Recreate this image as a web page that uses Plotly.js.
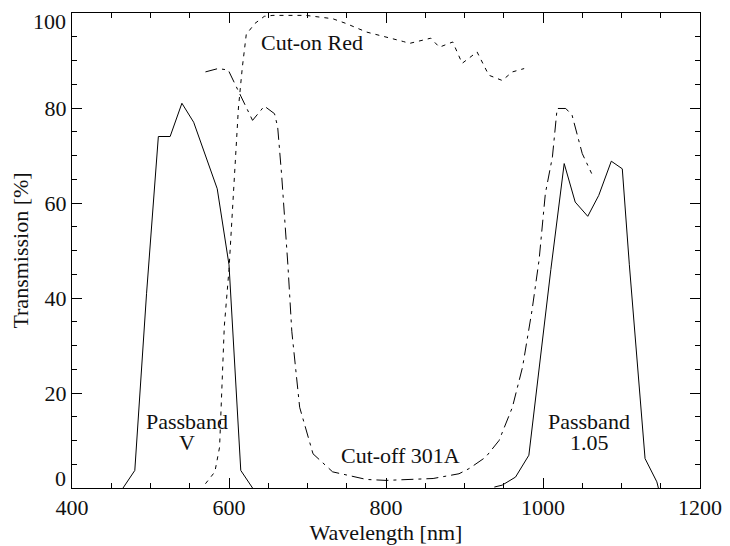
<!DOCTYPE html>
<html>
<head>
<meta charset="utf-8">
<script src="https://cdn.plot.ly/plotly-3.0.1.min.js"></script>
<style>html,body{margin:0;padding:0;background:#fff;}</style>
</head>
<body>
<div id="chart" style="width:730px;height:546px;"></div>
<script>
// Passband V (solid)
const passbandV_x = [465, 480, 495, 510, 525, 540, 555, 570, 585, 600, 615, 630];
const passbandV_y = [0, 3.7, 41, 74, 74, 81, 77, 70, 63, 47, 3.7, 0];

// Cut-off 301A (dash-dot)
const cutoff_x = [570, 586, 599, 630, 645, 658, 662, 667, 675, 680, 690, 707, 732, 775, 800, 860, 893, 906, 927, 944, 961, 974, 986, 995, 1003, 1012, 1018, 1029, 1037, 1046, 1050, 1062];
const cutoff_y = [87.6, 88.3, 88, 77.4, 80.4, 78.8, 76, 66, 47, 33, 17, 7.2, 3.4, 1.8, 1.6, 2, 3, 4.1, 6.5, 10, 17, 25.5, 37.4, 48, 62, 69.7, 79.9, 79.9, 78.5, 73.2, 70.4, 66.2];

// Cut-on Red (dashed)
const cuton_x = [570, 582, 588, 594, 600, 605, 608, 612, 617, 622, 633, 645, 656, 698, 732, 749, 775, 800, 822, 830, 846, 857, 868, 885, 897, 916, 931, 948, 961, 976];
const cuton_y = [0.9, 3.4, 8.6, 34, 46, 60, 71, 80, 88.6, 95.5, 97.8, 99.3, 99.5, 99.5, 98.8, 97.8, 96, 95, 94, 93.6, 94.3, 94.7, 92.8, 93.9, 89.4, 91.8, 86.9, 85.8, 87.6, 88.3];

// Passband 1.05 (solid)
const passband105_x = [938, 948, 965, 982, 1010, 1027, 1041, 1057, 1071, 1087, 1101, 1110, 1130, 1145, 1147];
const passband105_y = [0.2, 0.6, 2.3, 6.9, 46, 68.3, 60.2, 57.2, 61.6, 68.8, 67.2, 47, 6.2, 1.3, 0];

// Curve labels
const labelText = ["Cut-on Red", "Passband", "V", "Cut-off 301A", "Passband", "1.05"];
const labelX = [706, 547, 547, 818, 1059, 1059];
const labelY = [93.7, 14.1, 9.5, 6.8, 14.1, 9.5];

// Axis ticks
const xTickVals = [400, 600, 800, 1000, 1200];
const yInnerTickVals = [20, 40, 60, 80];
const yEdgeTickVals = [0, 100];   // drawn inside the axis ends, as in the reference

const FONT = "Liberation Serif, Times New Roman, serif";
const TXT = "#111";
const lineBase = {mode: "lines", showlegend: false, hoverinfo: "skip"};

const traces = [
  Object.assign({x: passbandV_x, y: passbandV_y, line: {color: "#000", width: 1}}, lineBase),
  Object.assign({x: cutoff_x, y: cutoff_y, line: {color: "#000", width: 1, dash: "12px,5px,3px,5px"}}, lineBase),
  Object.assign({x: cuton_x, y: cuton_y, line: {color: "#000", width: 1, dash: "4px,5px"}}, lineBase),
  Object.assign({x: passband105_x, y: passband105_y, line: {color: "#000", width: 1}}, lineBase)
];

const annotations = labelText.map((t, i) => ({
  x: labelX[i], y: labelY[i], xref: "x", yref: "y", text: t, showarrow: false,
  xanchor: "center", yanchor: "middle",
  font: {family: FONT, size: 22, color: TXT}
}));

yEdgeTickVals.forEach((v, i) => {
  annotations.push({
    x: 0, xref: "paper", y: v, yref: "y", text: String(v), showarrow: false,
    xanchor: "right", yanchor: i === 0 ? "bottom" : "top", xshift: -4,
    yshift: i === 0 ? -5 : 6,
    font: {family: FONT, size: 22, color: TXT}
  });
});

const axisCommon = {
  showgrid: false, zeroline: false, showline: true, linecolor: "#000", linewidth: 1,
  mirror: "ticks", ticks: "inside", ticklen: 10, tickcolor: "#000", tickwidth: 1,
  tickfont: {family: FONT, size: 22, color: TXT}
};

const layout = {
  width: 730, height: 546,
  margin: {l: 72, r: 30, t: 13, b: 58},
  paper_bgcolor: "#fff", plot_bgcolor: "#fff",
  showlegend: false,
  xaxis: Object.assign({}, axisCommon, {
    range: [400, 1200], tickmode: "array", tickvals: xTickVals,
    ticktext: xTickVals.map(String),
    minor: {dtick: 50, tick0: 400, ticks: "inside", ticklen: 5, tickcolor: "#000", showgrid: false},
    title: {text: "Wavelength [nm]", font: {family: FONT, size: 22, color: TXT}, standoff: 2}
  }),
  yaxis: Object.assign({}, axisCommon, {
    range: [0, 100], tickmode: "array", tickvals: yInnerTickVals,
    ticktext: yInnerTickVals.map(String),
    minor: {dtick: 5, tick0: 0, ticks: "inside", ticklen: 5, tickcolor: "#000", showgrid: false},
    title: {text: "Transmission [%]", font: {family: FONT, size: 22, color: TXT}, standoff: 9}
  }),
  annotations: annotations
};

Plotly.newPlot("chart", traces, layout, {displayModeBar: false, staticPlot: true});
</script>
</body>
</html>
